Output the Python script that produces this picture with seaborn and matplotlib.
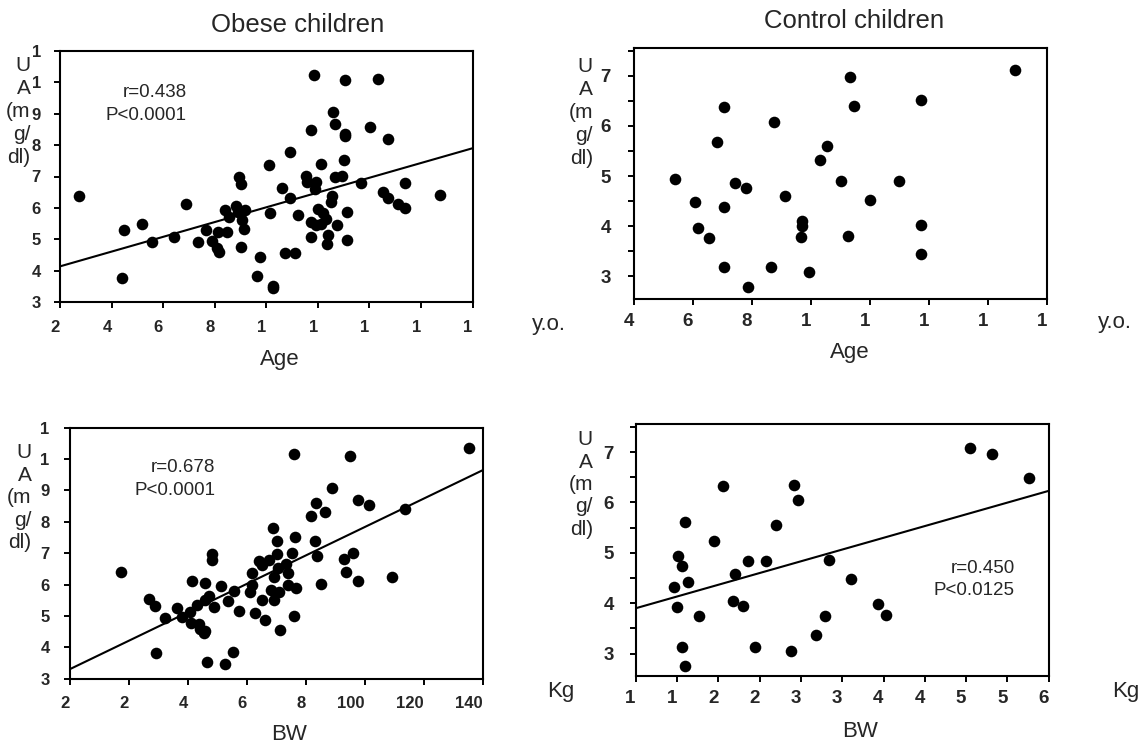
import numpy as np
import matplotlib
matplotlib.use("Agg")
import matplotlib.pyplot as plt
import seaborn as sns

# 비만 아동 : 나이(y.o.) - 요산(UA, mg/dl)
obese_age = [2.75, 4.49, 4.41, 5.17, 5.55, 6.42, 6.88, 7.37, 7.67, 7.90, 8.08, 8.18, 8.14, 8.47, 8.39,
             8.54, 8.84, 8.93, 9.04, 8.91, 9.05, 9.16, 9.13, 9.04, 9.63, 9.74, 10.26, 10.28, 10.10, 10.16,
             10.60, 10.92, 10.93, 10.74, 11.11, 11.25, 11.53, 11.59, 11.74, 11.84, 11.93, 11.89, 11.72, 11.74, 11.93,
             12.02, 12.14, 12.14, 12.21, 12.33, 12.38, 12.36, 12.50, 12.54, 12.57, 12.68, 12.68, 12.76, 12.94, 13.01,
             13.05, 13.07, 13.07, 13.14, 13.14, 13.68, 14.02, 14.32, 14.54, 14.73, 14.72, 15.10, 15.40, 15.40, 16.73]
obese_age_ua = [6.38, 5.28, 3.75, 5.49, 4.90, 5.07, 6.12, 4.90, 5.31, 4.93, 4.72, 4.59, 5.23, 5.23, 5.94,
                5.71, 6.05, 6.97, 6.76, 5.86, 5.62, 5.94, 5.32, 4.75, 3.82, 4.44, 3.52, 3.44, 7.38, 5.85,
                6.64, 7.77, 6.33, 4.56, 4.56, 5.77, 7.02, 6.81, 8.49, 10.23, 6.84, 6.60, 5.56, 5.06, 5.45,
                5.96, 7.40, 5.49, 5.83, 5.65, 5.14, 4.85, 6.19, 6.37, 9.05, 8.66, 7.00, 5.46, 7.02, 7.51,
                8.37, 8.28, 10.06, 5.88, 4.98, 6.80, 8.58, 10.12, 6.51, 8.19, 6.30, 6.11, 5.99, 6.80, 6.42]

# 대조군 아동 : 나이 - 요산
control_age = [5.40, 6.06, 6.16, 6.54, 6.82, 7.05, 7.04, 7.06, 7.41, 7.81, 7.88, 8.73, 8.65, 9.11, 9.69,
               9.69, 9.65, 9.94, 10.31, 10.53, 11.02, 11.32, 11.47, 11.25, 12.01, 12.97, 13.74, 13.74, 13.73, 16.90]
control_age_ua = [4.95, 4.48, 3.97, 3.76, 5.68, 6.37, 4.38, 3.18, 4.87, 4.77, 2.78, 6.07, 3.19, 4.61, 4.11,
                  4.00, 3.79, 3.09, 5.31, 5.60, 4.90, 6.97, 6.39, 3.81, 4.52, 4.90, 6.52, 4.03, 3.44, 7.11]

# 비만 아동 : 체중(BW, Kg) - 요산
obese_bw = [17.5, 27.0, 28.9, 29.4, 32.3, 36.5, 38.2, 40.9, 41.5, 41.1, 43.3, 43.7, 44.2, 45.4, 46.0,
            45.7, 46.0, 47.2, 46.6, 48.3, 48.2, 49.0, 51.2, 52.6, 53.8, 55.5, 55.8, 57.2, 61.1, 61.7,
            61.7, 62.8, 64.0, 65.3, 65.0, 66.1, 67.5, 69.0, 69.3, 70.1, 70.3, 69.1, 68.1, 70.8, 71.2,
            70.7, 73.2, 73.8, 74.0, 75.3, 76.2, 76.0, 76.0, 76.6, 81.6, 83.6, 83.0, 83.9, 85.1, 86.5,
            88.8, 92.8, 93.5, 95.0, 95.9, 97.8, 97.7, 101.5, 109.1, 113.5, 135.2]
obese_bw_ua = [6.41, 5.53, 5.33, 3.81, 4.94, 5.26, 4.97, 5.11, 6.11, 4.79, 5.34, 4.74, 4.60, 4.45, 4.52,
               6.05, 5.51, 5.64, 3.53, 6.97, 6.78, 5.27, 5.96, 3.46, 5.48, 3.84, 5.79, 5.15, 5.77, 5.98,
               6.37, 5.08, 6.76, 6.62, 5.50, 4.86, 6.78, 7.79, 6.25, 6.97, 7.39, 5.51, 5.83, 5.77, 4.55,
               6.52, 6.65, 6.38, 5.99, 7.00, 7.51, 10.16, 5.01, 5.88, 8.20, 8.59, 7.40, 6.91, 6.03, 8.31,
               9.08, 6.80, 6.40, 10.11, 7.02, 8.70, 6.11, 8.54, 6.23, 8.41, 10.35]

# 대조군 아동 : 체중 - 요산
control_bw = [14.65, 15.06, 14.97, 15.65, 16.01, 16.37, 15.65, 15.96, 17.72, 19.49, 20.52, 21.74, 22.06, 23.01, 23.55,
              24.41, 25.76, 27.03, 28.83, 29.20, 29.65, 31.77, 32.95, 33.44, 36.02, 39.31, 40.31, 50.42, 53.18, 57.56]
control_bw_ua = [4.32, 4.93, 3.93, 4.73, 5.62, 4.43, 3.13, 2.75, 3.75, 5.24, 6.32, 4.05, 4.57, 3.94, 4.84,
                 3.14, 4.84, 5.56, 3.05, 6.34, 6.04, 3.36, 3.75, 4.85, 4.48, 3.99, 3.77, 7.08, 6.97, 6.48]

# 회귀선 (절편, 기울기)
fit_obese_age = (3.665, 0.2353)
fit_obese_bw = (3.30, 0.04536)
fit_control_bw = (3.434, 0.0466)

# 눈금 (원본 그림에서 잘린 라벨 그대로)
obese_age_xticks = [2, 4, 6, 8, 10, 12, 14, 16, 18]
obese_age_xlabels = ['2', '4', '6', '8', '1', '1', '1', '1', '1']
control_age_xticks = [4, 6, 8, 10, 12, 14, 16, 18]
control_age_xlabels = ['4', '6', '8', '1', '1', '1', '1', '1']
obese_bw_xticks = [0, 20, 40, 60, 80, 100, 120, 140]
obese_bw_xlabels = ['2', '2', '4', '6', '8', '100', '120', '140']
control_bw_xticks = [10, 15, 20, 25, 30, 35, 40, 45, 50, 55, 60]
control_bw_xlabels = ['1', '1', '2', '2', '3', '3', '4', '4', '5', '5', '6']
obese_ua_ticks = [3, 4, 5, 6, 7, 8, 9, 10, 11]
obese_ua_labels = ['3', '4', '5', '6', '7', '8', '9', '1', '1']
control_ua_ticks = [3, 3.5, 4, 4.5, 5, 5.5, 6, 6.5, 7, 7.5]
control_ua_labels = ['3', '', '4', '', '5', '', '6', '', '7', '']

ua_label_lines = ['U', 'A', '(m', 'g/', 'dl)']

sns.set_style('ticks')
plt.rcParams['font.family'] = ['Liberation Sans', 'DejaVu Sans']

W, H = 1145, 746
fig = plt.figure(figsize=(W / 100, H / 100), dpi=100)


def fx(x):
    return x / W


def fy(y):
    return 1 - y / H


def panel(box, x, y, xlim, ylim, xticks, xlabels, yticks, ylabels, xpad, ypad, tsize, fit=None):
    ax = fig.add_axes(box)
    sns.scatterplot(x=x, y=y, ax=ax, s=70, color='black', linewidth=0)
    if fit is not None:
        ax.axline((0, fit[0]), slope=fit[1], color='black', lw=1.5)
    ax.set_xlim(xlim)
    ax.set_ylim(ylim)
    ax.set_xticks(xticks)
    ax.set_xticklabels(xlabels, fontsize=tsize, fontweight='bold', ha='right')
    ax.set_yticks(yticks)
    ax.set_yticklabels(ylabels, fontsize=tsize, fontweight='bold')
    ax.tick_params(direction='out', length=4.3, width=1.4, color='black')
    ax.tick_params(axis='x', pad=xpad)
    ax.tick_params(axis='y', pad=ypad)
    for sp in ax.spines.values():
        sp.set_visible(True)
        sp.set_linewidth(1.5)
        sp.set_color('black')
    ax.set_xlabel('')
    ax.set_ylabel('')
    return ax


panel([fx(60), fy(302), (472.5 - 60) / W, 251 / H], obese_age, obese_age_ua, (2, 18), (3, 11),
      obese_age_xticks, obese_age_xlabels, obese_ua_ticks, obese_ua_labels, 8.5, 9.5, 12, fit_obese_age)
panel([fx(634), fy(299), (1047 - 634) / W, 251 / H], control_age, control_age_ua, (4, 18), (2.55, 7.55),
      control_age_xticks, control_age_xlabels, control_ua_ticks, control_ua_labels, 5.5, 12.5, 13.5)
panel([fx(69.6), fy(678.7), (483 - 69.6) / W, 251 / H], obese_bw, obese_bw_ua, (0, 140), (3, 11),
      obese_bw_xticks, obese_bw_xlabels, obese_ua_ticks, obese_ua_labels, 8.5, 10, 12, fit_obese_bw)
panel([fx(635.7), fy(676.3), (1048.8 - 635.7) / W, 252 / H], control_bw, control_bw_ua, (10, 60), (2.55, 7.55),
      control_bw_xticks, control_bw_xlabels, control_ua_ticks, control_ua_labels, 5.5, 11.5, 13.5, fit_control_bw)

# 제목
fig.text(fx(298), fy(31.5), 'Obese children', ha='center', va='baseline', fontsize=18.5)
fig.text(fx(854), fy(27.5), 'Control children', ha='center', va='baseline', fontsize=18.5)

# x축 라벨, 단위
fig.text(fx(280), fy(365), 'Age', ha='center', va='baseline', fontsize=16)
fig.text(fx(850), fy(358), 'Age', ha='center', va='baseline', fontsize=16)
fig.text(fx(289), fy(740), 'BW', ha='center', va='baseline', fontsize=16)
fig.text(fx(860), fy(737), 'BW', ha='center', va='baseline', fontsize=16)
fig.text(fx(532), fy(330), 'y.o.', ha='left', va='baseline', fontsize=16)
fig.text(fx(1098), fy(328), 'y.o.', ha='left', va='baseline', fontsize=16)
fig.text(fx(547), fy(697), 'Kg', ha='left', va='baseline', fontsize=16)
fig.text(fx(1112), fy(697), 'Kg', ha='left', va='baseline', fontsize=16)

# y축 라벨 (세로로 쌓인 글자)
for xr, y0, step in [(30.5, 71, 23), (592.8, 72, 23), (31.4, 458, 22.5), (592.8, 445, 22.5)]:
    for i, s in enumerate(ua_label_lines):
        fig.text(fx(xr), fy(y0 + i * step), s, ha='right', va='baseline', fontsize=15)

# 상관계수
fig.text(fx(186.4), fy(96.7), 'r=0.438', ha='right', va='baseline', fontsize=13.5)
fig.text(fx(186.4), fy(120), 'P<0.0001', ha='right', va='baseline', fontsize=13.5)
fig.text(fx(215), fy(471.7), 'r=0.678', ha='right', va='baseline', fontsize=13.5)
fig.text(fx(215), fy(495), 'P<0.0001', ha='right', va='baseline', fontsize=13.5)
fig.text(fx(1014.5), fy(572.7), 'r=0.450', ha='right', va='baseline', fontsize=13.5)
fig.text(fx(1014.5), fy(595), 'P<0.0125', ha='right', va='baseline', fontsize=13.5)

fig.savefig('out.png', dpi=100)
